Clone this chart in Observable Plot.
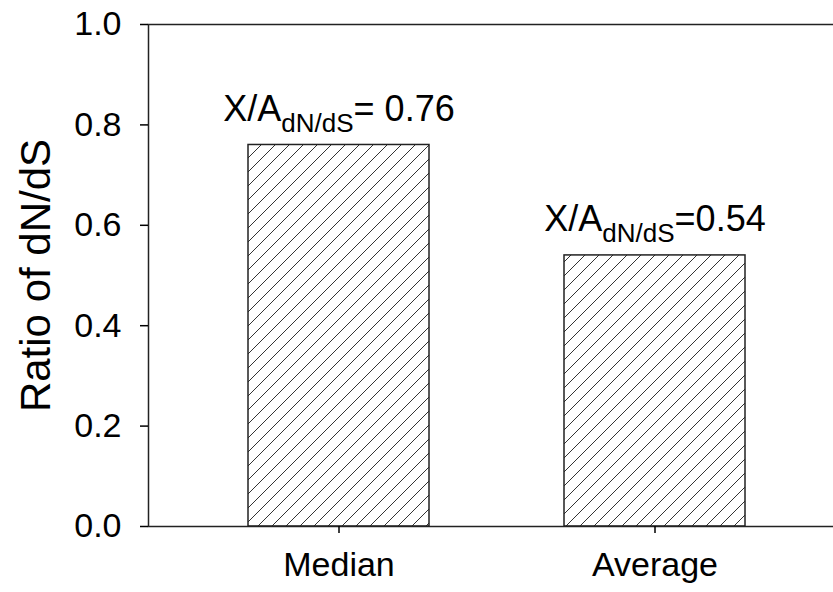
<!DOCTYPE html>
<html><head><meta charset="utf-8">
<script src="https://cdn.jsdelivr.net/npm/d3@7"></script>
<script src="https://cdn.jsdelivr.net/npm/@observablehq/plot@0.6"></script>
<style>html,body{margin:0;padding:0;background:#fff;overflow:hidden}</style>
</head><body><div id="chart"></div>
<script>
const categories = ["Median", "Average"];
const ratios = [0.76, 0.54];
const annotationMain = ["X/A", "X/A"];
const annotationSub = ["dN/dS", "dN/dS"];
const annotationRest = ["= 0.76", "=0.54"];
const yTicks = [0, 0.2, 0.4, 0.6, 0.8, 1.0];
const yLabel = "Ratio of dN/dS";

const rows = categories.map((c, i) => ({
  category: c,
  ratio: ratios[i],
  label: annotationMain[i] + "|" + annotationSub[i] + "|" + annotationRest[i]
}));

const chart = Plot.plot({
  width: 833, height: 592,
  marginLeft: 148, marginRight: -12, marginTop: 24, marginBottom: 66,
  style: {fontFamily: "'Liberation Sans', Arial, sans-serif", color: "#000", background: "#fff", overflow: "hidden"},
  x: {domain: categories, paddingInner: 0.426, paddingOuter: 0.3125, label: null},
  y: {domain: [0, 1], label: null},
  marks: [
    Plot.barY(rows, {x: "category", y: "ratio", fill: "url(#hatch)", stroke: "#222", strokeWidth: 1.5}),
    Plot.frame({stroke: "#222", strokeWidth: 1.5}),
    Plot.axisY({ticks: yTicks, tickFormat: d => d.toFixed(1), tickSize: 8, tickPadding: 19, fontSize: 34, label: null, strokeWidth: 1.5}),
    Plot.axisY({ticks: [], tickSize: 0, label: yLabel, labelAnchor: "center", labelArrow: "none", labelOffset: 128, fontSize: 42}),
    Plot.axisX({tickSize: 7, tickPadding: 18, fontSize: 34, label: null, strokeWidth: 1.5}),
    Plot.text(rows, {x: "category", y: "ratio", text: "label", dy: -24, fontSize: 36, lineAnchor: "bottom"})
  ]
});

const defs = d3.select(chart).insert("defs", ":first-child");
const pat = defs.append("pattern").attr("id", "hatch").attr("patternUnits", "userSpaceOnUse").attr("width", 14).attr("height", 14);
pat.append("rect").attr("width", 14).attr("height", 14).attr("fill", "#fff");
pat.append("path").attr("d", "M0,14L14,0M-2,2L2,-2M12,16L16,12").attr("stroke", "#333").attr("stroke-width", 1);

d3.select(chart).selectAll("text").each(function () {
  const s = this.textContent;
  if (s.includes("|")) {
    const [a, b, c] = s.split("|");
    const t = d3.select(this);
    t.text(null);
    t.append("tspan").text(a);
    t.append("tspan").attr("font-size", 26).attr("dy", 11).text(b);
    t.append("tspan").attr("dy", -11).text(c);
  }
});

document.getElementById("chart").appendChild(chart);
</script>
</body></html>
